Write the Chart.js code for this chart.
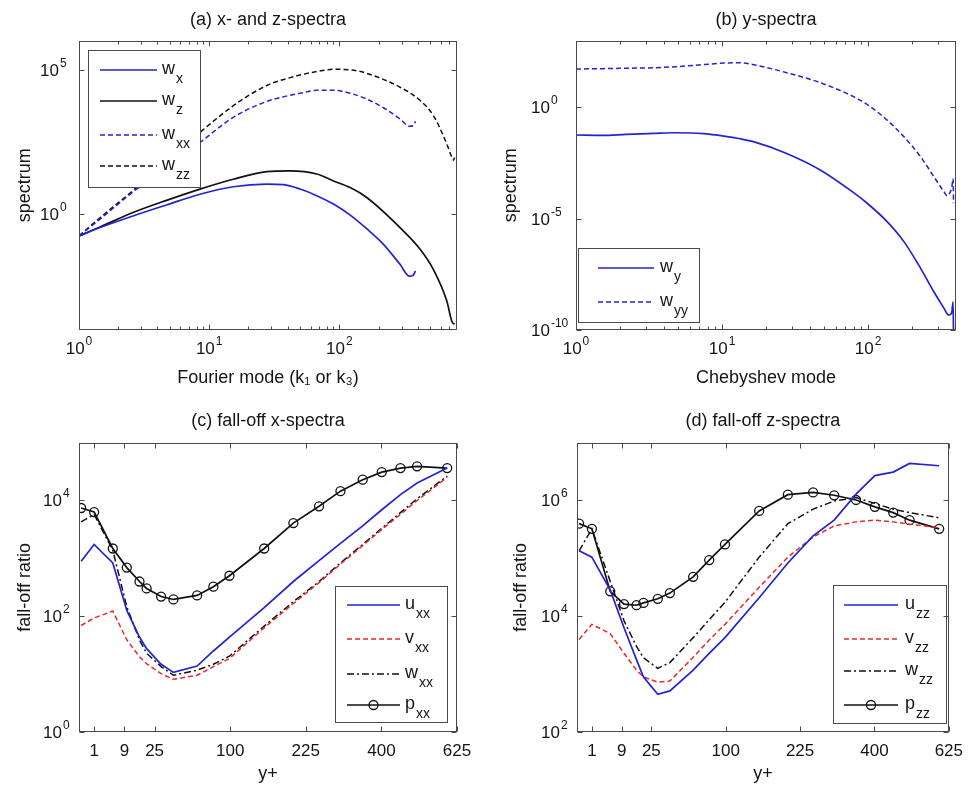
<!DOCTYPE html>
<html><head><meta charset="utf-8">
<script src="https://cdn.jsdelivr.net/npm/chart.js@4.4.1/dist/chart.umd.min.js"></script>
<style>
html,body{margin:0;padding:0;background:#fff;}
#wrap{position:relative;width:972px;height:785px;overflow:hidden;background:#fff;}
canvas{position:absolute;}
</style></head><body><div id="wrap">
<canvas id="ca" width="486" height="392" style="left:0;top:0"></canvas>
<canvas id="cb" width="486" height="392" style="left:486px;top:0"></canvas>
<canvas id="cc" width="486" height="393" style="left:0;top:392px"></canvas>
<canvas id="cd" width="486" height="393" style="left:486px;top:392px"></canvas>
</div>
<script>
// ---------- (a) x- and z-spectra ----------
const kX  = [1, 1.45, 2.6, 4.7, 8.5, 15.3, 27.7, 37.2, 49.9, 67, 90, 121, 162, 218, 292, 345, 370, 384];
const wX  = [0.178, 0.347, 0.871, 2.09, 4.90, 8.91, 11.0, 10.5, 7.41, 4.37, 2.24, 0.933, 0.316, 0.0912, 0.0186, 0.00724, 0.00794, 0.0110];
const wXX = [0.178, 0.676, 5.89, 41.7, 302, 2240, 7940, 11500, 15100, 19100, 19100, 15100, 9550, 4790, 1950, 1100, 1150, 1620];
const kZ  = [1, 1.45, 2.6, 4.7, 8.5, 15.3, 27.7, 41.8, 67, 90, 121, 162, 292, 417, 527, 668, 730, 752, 768];
const wZ  = [0.178, 0.363, 1.15, 3.02, 7.41, 16.2, 29.5, 31.6, 24.5, 14.1, 8.32, 3.80, 0.347, 0.0617, 0.0123, 0.0010, 0.00020, 0.000166, 0.000162];
const wZZ = [0.178, 0.759, 6.61, 70.8, 676, 5620, 28200, 52500, 85100, 102000, 97700, 74100, 24500, 8510, 2570, 269, 93.3, 74.1, 91.2];
// ---------- (b) y-spectra ----------
const kY  = [1, 1.52, 2.21, 3.37, 4.86, 7.43, 10.3, 13.3, 16.4, 27.7, 47, 79.6, 100, 135, 176, 229, 282, 331, 349, 358, 374, 382, 385];
const wY  = [0.0575, 0.0550, 0.0617, 0.0676, 0.0724, 0.0661, 0.0513, 0.0389, 0.0288, 0.00851, 0.00155, 1.48e-4, 4.57e-5, 7.41e-6, 9.33e-7, 5.89e-8, 5.25e-9, 9.33e-10, 5.25e-10, 4.68e-10, 6.03e-10, 1.86e-9, 3.16e-11];
const wYY = [52.5, 55.0, 57.5, 60.3, 67.6, 83.2, 97.7, 102, 83.2, 36.3, 12.9, 3.02, 1.26, 0.269, 0.0479, 0.00603, 7.76e-4, 1.62e-4, 1.05e-4, 1.26e-4, 2.51e-4, 6.31e-4, 5.01e-5];
// ---------- (c),(d) fall-off ratios vs y+ ----------
const yPlus = [0.02, 1, 5, 10, 16, 20, 29.5, 39, 61, 79, 99, 150, 201, 252, 299, 352, 401, 452, 500, 593];
const uXX = [891, 1740, 832, 126, 43.7, 27.5, 14.8, 10.7, 13.8, 25.1, 43.7, 141, 398, 912, 1820, 3630, 6920, 12600, 20000, 36300];
const vXX = [69.2, 93.3, 123, 38.9, 20.0, 15.1, 10.2, 8.13, 9.55, 13.5, 18.6, 63.1, 166, 380, 794, 1660, 3160, 5750, 10000, 25100];
const wXXc = [4270, 5750, 1380, 145, 38.9, 22.9, 13.5, 9.55, 11.7, 14.8, 20.4, 67.6, 178, 398, 832, 1740, 3310, 6170, 10700, 26300];
const pXX = [7410, 6310, 1480, 692, 398, 302, 219, 195, 229, 324, 501, 1480, 4070, 7940, 14500, 22900, 30900, 36300, 38900, 36300];
const uZZ = [1.35e5, 1.05e5, 2.82e4, 6310, 1780, 891, 447, 513, 1170, 2290, 4270, 2.09e4, 8.32e4, 2.45e5, 4.57e5, 1.29e6, 2.69e6, 3.09e6, 4.37e6, 3.98e6];
const vZZ = [3980, 7240, 5010, 2290, 1170, 891, 724, 759, 1950, 3890, 7240, 3.16e4, 1.05e5, 2.34e5, 3.63e5, 4.27e5, 4.57e5, 4.27e5, 3.89e5, 3.39e5];
const wZZc = [1.35e5, 3.24e5, 3.98e4, 8320, 3020, 1910, 1260, 1580, 4270, 8710, 1.74e4, 1.05e5, 3.98e5, 7.08e5, 9.77e5, 1.12e6, 8.91e5, 7.08e5, 6.17e5, 5.01e5];
const pZZ = [3.98e5, 3.24e5, 2.69e4, 1.62e4, 1.55e4, 1.70e4, 2.0e4, 2.51e4, 4.79e4, 9.33e4, 1.74e5, 6.61e5, 1.26e6, 1.38e6, 1.23e6, 1.02e6, 7.76e5, 6.17e5, 4.57e5, 3.24e5];
// ---------- tick values ----------
const ticksFourier = [1, 10, 100];
const ticksCheb = [1, 10, 100];
const ticksAy = [1, 1e5];
const ticksBy = [1e-10, 1e-5, 1];
const ticksCy = [1, 1e2, 1e4];
const ticksDy = [1e2, 1e4, 1e6];
const ticksYPlus = [1, 9, 25, 100, 225, 400, 625];

const FONT = '"Liberation Sans", Arial, Helvetica, sans-serif';
Chart.defaults.font.family = FONT;
Chart.defaults.color = '#151515';
const BLUE = '#2323d2', RED = '#e42a2a', BLACK = '#111111', AX = '#4a4a4a', TXT = '#151515';
const DASH = [5, 3], DASHDOT = [7, 3, 2, 3];

function logMinors(min, max){ const out=[]; for(let d=Math.pow(10,Math.floor(Math.log10(min))); d<=max; d*=10){ for(let m=2;m<=9;m++){ const v=m*d; if(v>min && v<max) out.push(v);} } return out; }
function pts(xs, ys, fx){ return xs.map((x,i)=>({x: fx ? fx(x) : x, y: ys[i]})); }

// "10" with a raised exponent, as real text
function drawPow(ctx, v, x, baseY, align) {
  const e = String(Math.round(Math.log10(v)));
  ctx.textAlign = 'left'; ctx.textBaseline = 'alphabetic'; ctx.fillStyle = TXT;
  ctx.font = '17px ' + FONT; const wb = ctx.measureText('10').width;
  ctx.font = '12px ' + FONT; const we = ctx.measureText(e).width;
  const x0 = align === 'center' ? x - (wb + 1 + we) / 2 : x;
  ctx.font = '17px ' + FONT; ctx.fillText('10', x0, baseY);
  ctx.font = '12px ' + FONT; ctx.fillText(e, x0 + wb + 1, baseY - 9);
}

const matlabAxes = {
  id: 'matlabAxes',
  afterDatasetsDraw(chart, args, o) {
    const ctx = chart.ctx, a = chart.chartArea, xs = chart.scales.x, ys = chart.scales.y;
    ctx.save();
    if (o.legend) {
      const L = o.legend;
      ctx.fillStyle = '#fff';
      ctx.fillRect(L.box[0], L.box[1], L.box[2], L.box[3]);
      ctx.strokeStyle = AX; ctx.lineWidth = 1; ctx.setLineDash([]);
      ctx.strokeRect(L.box[0] + 0.5, L.box[1] + 0.5, L.box[2], L.box[3]);
      chart.data.datasets.forEach((ds, i) => {
        const y = L.rows[i];
        ctx.strokeStyle = ds.borderColor; ctx.lineWidth = ds.borderWidth;
        ctx.setLineDash(ds.borderDash || []);
        ctx.beginPath(); ctx.moveTo(L.lx0, y); ctx.lineTo(L.lx1, y); ctx.stroke();
        ctx.setLineDash([]);
        if (ds.pointRadius > 0) {
          ctx.lineWidth = ds.pointBorderWidth; ctx.strokeStyle = ds.pointBorderColor;
          ctx.beginPath(); ctx.arc((L.lx0 + L.lx1) / 2, y, ds.pointRadius, 0, 2 * Math.PI); ctx.stroke();
        }
        const parts = ds.label.split('_');
        ctx.fillStyle = TXT; ctx.textAlign = 'left'; ctx.textBaseline = 'alphabetic';
        ctx.font = '18px ' + FONT;
        ctx.fillText(parts[0], L.tx, y + 4);
        const w = ctx.measureText(parts[0]).width;
        ctx.font = '14px ' + FONT;
        ctx.fillText(parts[1], L.tx + w + 1, y + 13);
      });
    }
    ctx.setLineDash([]); ctx.strokeStyle = AX; ctx.lineWidth = 1;
    const l = Math.round(a.left) + 0.5, r = Math.round(a.right) - 0.5, t = Math.round(a.top) + 0.5, b = Math.round(a.bottom) - 0.5;
    ctx.strokeRect(l, t, r - l, b - t);
    ctx.beginPath();
    const tx = (vals, len) => (vals || []).forEach(v => {
      const p = Math.round(xs.getPixelForValue(v)) + 0.5; if (p < l - 1 || p > r + 1) return;
      ctx.moveTo(p, b); ctx.lineTo(p, b - len); ctx.moveTo(p, t); ctx.lineTo(p, t + len);
    });
    const ty = (vals, len) => (vals || []).forEach(v => {
      const p = Math.round(ys.getPixelForValue(v)) + 0.5; if (p < t - 1 || p > b + 1) return;
      ctx.moveTo(l, p); ctx.lineTo(l + len, p); ctx.moveTo(r, p); ctx.lineTo(r - len, p);
    });
    tx(o.xMajor, 5); tx(o.xMinor, 3); ty(o.yMajor, 5);
    ctx.stroke();
    // power-of-ten tick labels
    if (o.yPow) o.yMajor.forEach(v => drawPow(ctx, v, o.yLabelX, ys.getPixelForValue(v) + 6, 'left'));
    if (o.xPow) o.xMajor.forEach(v => drawPow(ctx, v, xs.getPixelForValue(v), a.bottom + 24, 'center'));
    ctx.restore();
  }
};

function lineDs(label, data, color, dash, extra) {
  return Object.assign({label, data, borderColor: color, backgroundColor: color, borderWidth: dash ? 1.5 : 1.7,
    borderDash: dash || [], pointRadius: 0, pointHoverRadius: 0, fill: false, tension: 0}, extra || {});
}
const SMOOTH = {cubicInterpolationMode: 'monotone'};
const CIRC = {pointRadius: 4.5, pointStyle: 'circle', pointBorderColor: BLACK, pointBackgroundColor: 'rgba(0,0,0,0)', pointBorderWidth: 1.3};

function makeChart(id, cfg) {
  const H = document.getElementById(id).height, W = 486;
  return new Chart(document.getElementById(id), {
    type: 'line',
    data: {datasets: cfg.datasets},
    plugins: [matlabAxes],
    options: {
      responsive: false, animation: false, devicePixelRatio: 1,
      layout: {padding: {left: 0, right: W - cfg.area.r, top: 0, bottom: 0}},
      plugins: {
        legend: {display: false}, tooltip: {enabled: false},
        title: {display: true, text: cfg.title, fullSize: false, color: TXT,
          font: {size: 18, weight: 'normal', lineHeight: 1.2}, padding: {top: cfg.titlePad[0], bottom: cfg.titlePad[1]}},
        matlabAxes: cfg.frame
      },
      scales: {
        x: Object.assign({
          position: 'bottom',
          grid: {display: false, drawTicks: false}, border: {display: false},
          ticks: {display: false},
          title: {display: true, text: cfg.xTitle, color: TXT, font: {size: 18, lineHeight: 1.2}, padding: {top: 0, bottom: cfg.xTitlePad}},
          afterFit: s => { s.height = H - cfg.area.b; }
        }, cfg.x),
        y: Object.assign({
          position: 'left',
          grid: {display: false, drawTicks: false}, border: {display: false},
          ticks: {display: false},
          title: {display: true, text: cfg.yTitle, color: TXT, font: {size: 18, lineHeight: 1.2}, padding: {top: cfg.yTitlePad, bottom: 0}},
          afterFit: s => { s.width = cfg.area.l; }
        }, cfg.y)
      }
    }
  });
}

// (a)
makeChart('ca', {
  title: '(a) x- and z-spectra', titlePad: [9, 10], area: {l: 79, r: 457, b: 330},
  xTitle: 'Fourier mode (k\u2081 or k\u2083)', xTitlePad: 3, yTitle: 'spectrum', yTitlePad: 14,
  x: {type: 'logarithmic', min: 1, max: 800, afterBuildTicks: s => { s.ticks = ticksFourier.map(v => ({value: v})); }},
  y: {type: 'logarithmic', min: 1e-4, max: 1e6, afterBuildTicks: s => { s.ticks = ticksAy.map(v => ({value: v})); }},
  frame: {xMajor: ticksFourier, xMinor: logMinors(1, 800), yMajor: ticksAy, xPow: true, yPow: true, yLabelX: 40,
    legend: {box: [88, 50, 112, 137], rows: [70, 101, 135, 166], lx0: 100, lx1: 157, tx: 162}},
  datasets: [
    lineDs('w_x', pts(kX, wX), BLUE, null, SMOOTH),
    lineDs('w_z', pts(kZ, wZ), BLACK, null, SMOOTH),
    lineDs('w_xx', pts(kX, wXX), BLUE, DASH, SMOOTH),
    lineDs('w_zz', pts(kZ, wZZ), BLACK, DASH, SMOOTH)
  ]
});
// (b)
makeChart('cb', {
  title: '(b) y-spectra', titlePad: [9, 10], area: {l: 90, r: 470, b: 330},
  xTitle: 'Chebyshev mode', xTitlePad: 3, yTitle: 'spectrum', yTitlePad: 14,
  x: {type: 'logarithmic', min: 1, max: 400, afterBuildTicks: s => { s.ticks = ticksCheb.map(v => ({value: v})); }},
  y: {type: 'logarithmic', min: 1e-10, max: 1e3, afterBuildTicks: s => { s.ticks = ticksBy.map(v => ({value: v})); }},
  frame: {xMajor: ticksCheb, xMinor: logMinors(1, 400), yMajor: ticksBy, xPow: true, yPow: true, yLabelX: 45,
    legend: {box: [92, 248, 121, 74], rows: [268, 302], lx0: 112, lx1: 168, tx: 174}},
  datasets: [
    lineDs('w_y', pts(kY, wY), BLUE, null, SMOOTH),
    lineDs('w_yy', pts(kY, wYY), BLUE, DASH, SMOOTH)
  ]
});
const sqrtTicks = ticksYPlus.map(v => Math.sqrt(v));
const yPlusX = {type: 'linear', min: 0, max: 25,
  afterBuildTicks: s => { s.ticks = sqrtTicks.map(v => ({value: v})); },
  ticks: {display: true, autoSkip: false, maxRotation: 0, padding: 9, font: {size: 17}, color: TXT, callback: v => String(Math.round(v * v))}};
// (c)
makeChart('cc', {
  title: '(c) fall-off x-spectra', titlePad: [18, 11], area: {l: 79, r: 457, b: 340},
  xTitle: 'y+', xTitlePad: 0, yTitle: 'fall-off ratio', yTitlePad: 14,
  x: yPlusX,
  y: {type: 'logarithmic', min: 1, max: 1e5, afterBuildTicks: s => { s.ticks = ticksCy.map(v => ({value: v})); }},
  frame: {xMajor: sqrtTicks, yMajor: ticksCy, yPow: true, yLabelX: 43,
    legend: {box: [335, 194, 112, 136], rows: [213, 247, 282, 313], lx0: 347, lx1: 400, tx: 405}},
  datasets: [
    lineDs('u_xx', pts(yPlus, uXX, Math.sqrt), BLUE, null),
    lineDs('v_xx', pts(yPlus, vXX, Math.sqrt), RED, DASH),
    lineDs('w_xx', pts(yPlus, wXXc, Math.sqrt), BLACK, DASHDOT),
    lineDs('p_xx', pts(yPlus, pXX, Math.sqrt), BLACK, null, CIRC)
  ]
});
// (d)
makeChart('cd', {
  title: '(d) fall-off z-spectra', titlePad: [18, 11], area: {l: 91, r: 469, b: 340},
  xTitle: 'y+', xTitlePad: 0, yTitle: 'fall-off ratio', yTitlePad: 24,
  x: yPlusX,
  y: {type: 'logarithmic', min: 1e2, max: 1e7, afterBuildTicks: s => { s.ticks = ticksDy.map(v => ({value: v})); }},
  frame: {xMajor: sqrtTicks, yMajor: ticksDy, yPow: true, yLabelX: 55,
    legend: {box: [347, 193, 113, 138], rows: [213, 247, 279, 313], lx0: 358, lx1: 412, tx: 419}},
  datasets: [
    lineDs('u_zz', pts(yPlus, uZZ, Math.sqrt), BLUE, null),
    lineDs('v_zz', pts(yPlus, vZZ, Math.sqrt), RED, DASH),
    lineDs('w_zz', pts(yPlus, wZZc, Math.sqrt), BLACK, DASHDOT),
    lineDs('p_zz', pts(yPlus, pZZ, Math.sqrt), BLACK, null, CIRC)
  ]
});
</script>
</body></html>
